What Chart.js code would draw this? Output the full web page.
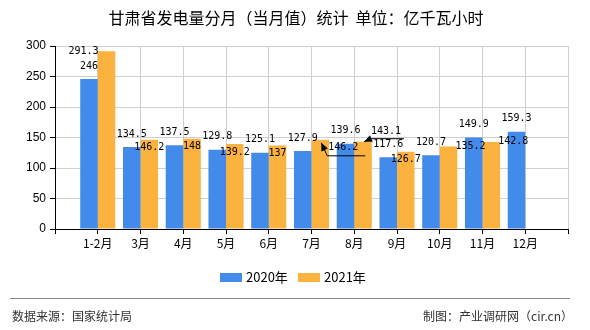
<!DOCTYPE html>
<html>
<head>
<meta charset="utf-8">
<script src="https://cdn.jsdelivr.net/npm/chart.js@4.4.0/dist/chart.umd.min.js"></script>
<style>
  html, body { margin: 0; padding: 0; background: #fff; }
  #wrap { position: relative; width: 590px; height: 330px; }
</style>
</head>
<body>
<div id="wrap"><canvas id="chart" width="590" height="330"></canvas></div>
<script>
const titleText = '甘肃省发电量分月（当月值）统计  单位：亿千瓦小时';
const months = ['1-2月', '3月', '4月', '5月', '6月', '7月', '8月', '9月', '10月', '11月', '12月'];
const series2020 = [246, 134.5, 137.5, 129.8, 125.1, 127.9, 139.6, 117.6, 120.7, 149.9, 159.3];
const series2021 = [291.3, 146.2, 148, 139.2, 137, 146.2, 143.1, 126.7, 135.2, 142.8, null];
const yTicks = [0, 50, 100, 150, 200, 250, 300];
const seriesNames = ['2020年', '2021年'];

const BLUE = '#428beb';
const ORANGE = '#fbb23f';
const CJK = '"Noto Sans CJK SC", "Noto Sans", sans-serif';

// empty slot at both ends of the axis
const labels = [''].concat(months, ['']);
const pad = arr => [null].concat(arr, [null]);

// label nudges for the 2021 series where the original moved them
const labelShift = {
    0: {dx: -23, dy: 0},
    5: {dx: 23, dy: 8, lead: 'down'},
    6: {dx: 23, dy: -10, lead: 'up'},
    8: {dx: 22, dy: 0},
    9: {dx: 22, dy: 0}
};

const extras = {
    id: 'extras',
    afterDatasetsDraw(chart) {
        const ctx = chart.ctx;
        ctx.save();
        ctx.font = '10px "DejaVu Sans Mono", "Liberation Mono", monospace';
        ctx.fillStyle = '#000';
        ctx.textAlign = 'center';
        ctx.textBaseline = 'middle';
        chart.data.datasets.forEach((ds, di) => {
            const meta = chart.getDatasetMeta(di);
            meta.data.forEach((bar, i) => {
                const v = ds.data[i];
                if (v === null || v === undefined) return;
                const txt = String(v);
                if (di === 0) {
                    ctx.fillText(txt, bar.x, bar.y - 13);
                    return;
                }
                const s = labelShift[i - 1];
                if (!s) {
                    ctx.fillText(txt, bar.x, bar.y + 8);
                    return;
                }
                ctx.fillText(txt, bar.x + s.dx, bar.y + s.dy);
                if (s.lead) {
                    ctx.strokeStyle = '#000';
                    ctx.lineWidth = 1;
                    ctx.beginPath();
                    let tx, ty;
                    if (s.lead === 'down') {
                        tx = bar.x + 1; ty = bar.y + 3;
                        ctx.moveTo(tx, ty);
                        ctx.lineTo(bar.x + 7, bar.y + 16);
                        ctx.lineTo(bar.x + 45, bar.y + 16);
                    } else {
                        tx = bar.x + 1; ty = bar.y;
                        ctx.moveTo(tx, ty);
                        ctx.lineTo(bar.x + 8, bar.y - 3);
                        ctx.lineTo(bar.x + 41, bar.y - 3);
                    }
                    ctx.stroke();
                    // arrow head
                    const ang = s.lead === 'down' ? Math.atan2(13, 6) : Math.atan2(-3, 7);
                    ctx.beginPath();
                    ctx.moveTo(tx, ty);
                    ctx.lineTo(tx + 8 * Math.cos(ang) - 3.5 * Math.sin(ang), ty + 8 * Math.sin(ang) + 3.5 * Math.cos(ang));
                    ctx.lineTo(tx + 8 * Math.cos(ang) + 3.5 * Math.sin(ang), ty + 8 * Math.sin(ang) - 3.5 * Math.cos(ang));
                    ctx.closePath();
                    ctx.fill();
                }
            });
        });
        ctx.restore();
    },
    afterDraw(chart) {
        const ctx = chart.ctx;
        ctx.save();
        // title
        ctx.fillStyle = '#000';
        ctx.font = '16px ' + CJK;
        ctx.textAlign = 'center';
        ctx.textBaseline = 'middle';
        ctx.fillText(titleText, 296, 18);

        // legend
        const colors = [BLUE, ORANGE];
        const xs = [220, 298];
        ctx.font = '13px ' + CJK;
        ctx.textAlign = 'left';
        seriesNames.forEach((n, i) => {
            ctx.fillStyle = colors[i];
            ctx.fillRect(xs[i], 273, 22, 9);
            ctx.fillStyle = '#000';
            ctx.fillText(n, xs[i] + 26, 277.5);
        });

        // footer
        ctx.strokeStyle = '#888';
        ctx.lineWidth = 1;
        ctx.beginPath();
        ctx.moveTo(10, 298.5);
        ctx.lineTo(570, 298.5);
        ctx.stroke();
        ctx.fillStyle = '#333';
        ctx.font = '12px ' + CJK;
        ctx.fillText('数据来源：国家统计局', 12, 316);
        ctx.textAlign = 'right';
        ctx.fillText('制图：产业调研网（cir.cn）', 573, 316);
        ctx.restore();
    }
};

new Chart(document.getElementById('chart'), {
    type: 'bar',
    data: {
        labels: labels,
        datasets: [
            {label: seriesNames[0], data: pad(series2020), backgroundColor: BLUE},
            {label: seriesNames[1], data: pad(series2021), backgroundColor: ORANGE}
        ]
    },
    options: {
        responsive: false,
        animation: false,
        devicePixelRatio: 1,
        layout: {padding: {top: 46, right: 22, left: 0, bottom: 0}},
        plugins: {
            legend: {display: false},
            title: {display: false},
            tooltip: {enabled: false}
        },
        datasets: {
            bar: {barPercentage: 1, categoryPercentage: 0.82}
        },
        scales: {
            x: {
                offset: false,
                grid: {
                    offset: false,
                    color: '#d0d0d0',
                    tickColor: '#000',
                    tickLength: 5
                },
                border: {color: '#000', width: 1},
                ticks: {
                    autoSkip: false,
                    maxRotation: 0,
                    padding: 2,
                    color: '#000',
                    font: {size: 12, family: CJK}
                },
                afterFit(scale) { scale.height = 101; }
            },
            y: {
                min: 0,
                max: 300,
                afterBuildTicks(scale) { scale.ticks = yTicks.map(v => ({value: v})); },
                grid: {
                    color: '#d0d0d0',
                    tickColor: '#000',
                    tickLength: 5
                },
                border: {color: '#000', width: 1},
                ticks: {
                    padding: 4,
                    color: '#000',
                    font: {size: 12, family: '"Liberation Sans", Arial, sans-serif'}
                },
                afterFit(scale) { scale.width = 55; }
            }
        }
    },
    plugins: [extras]
});
</script>
</body>
</html>
